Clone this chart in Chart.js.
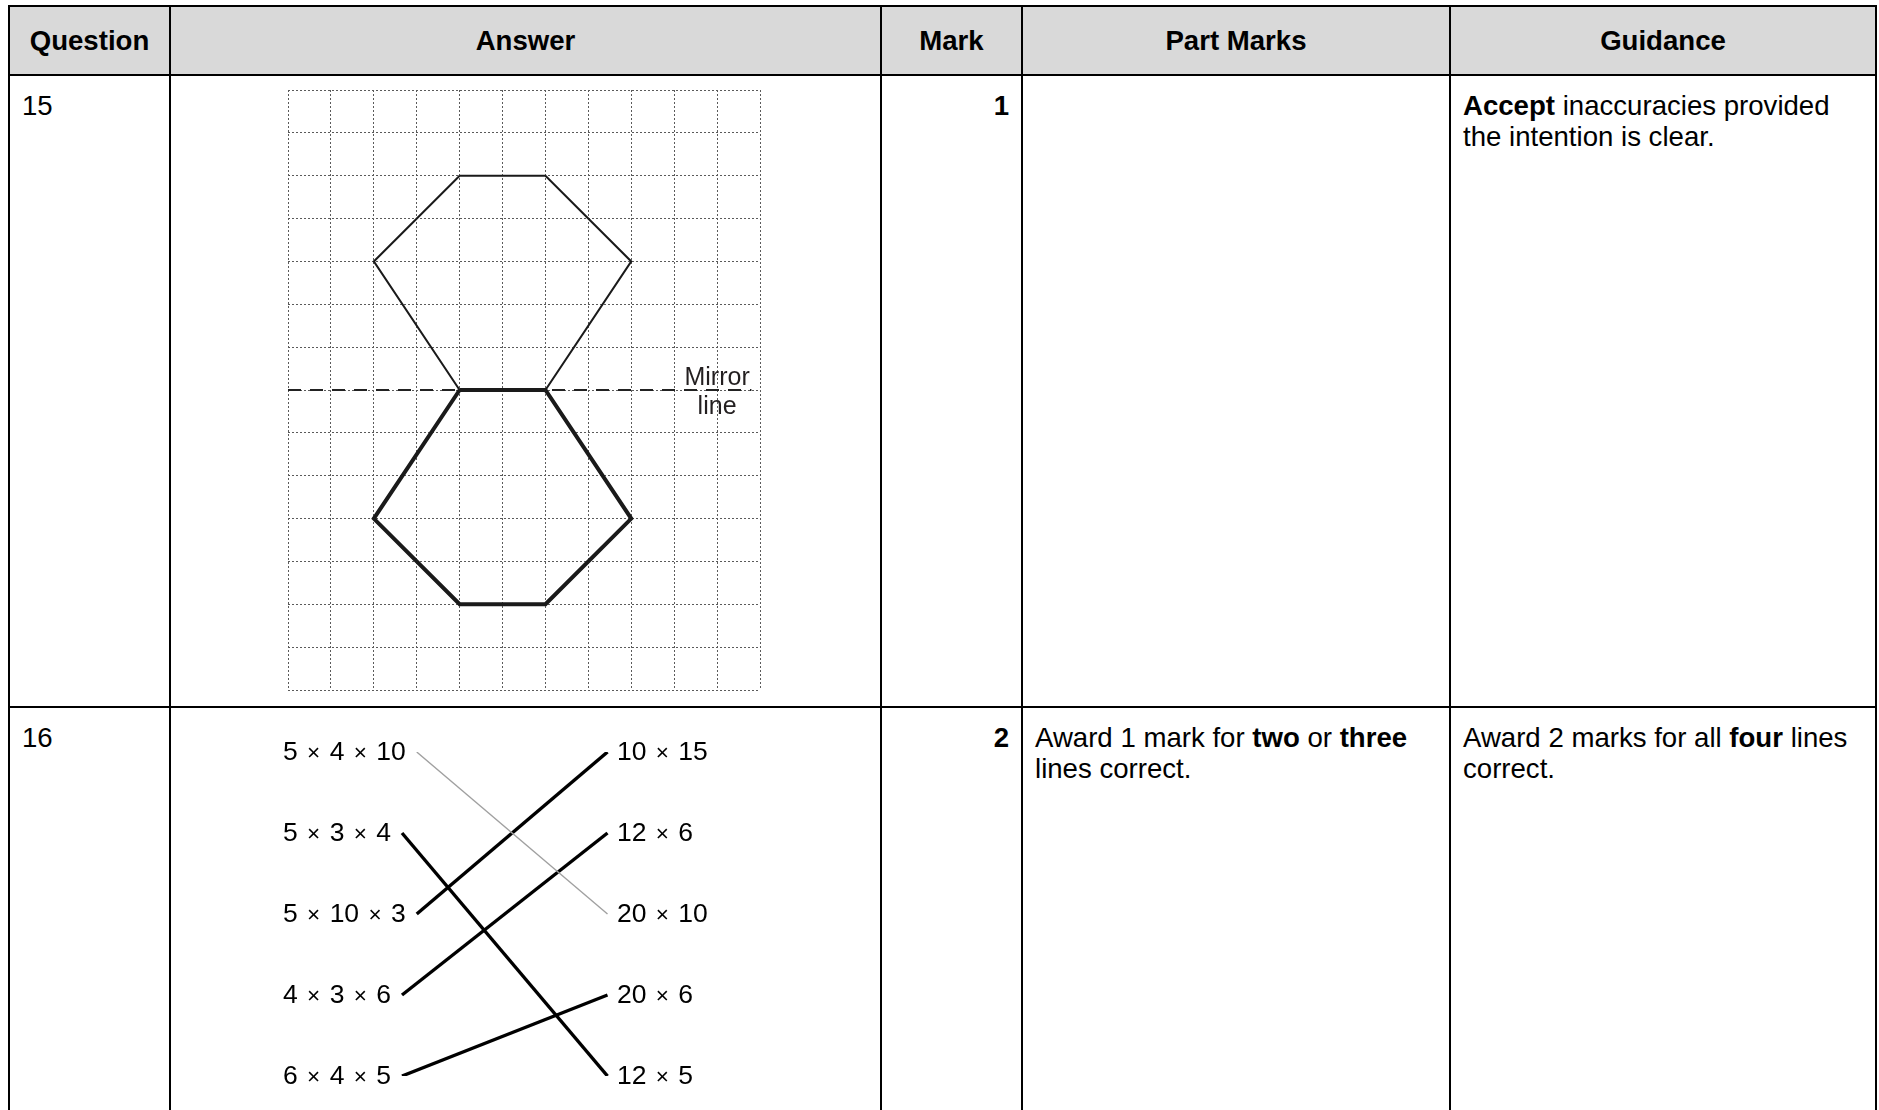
<!DOCTYPE html>
<html>
<head>
<meta charset="utf-8">
<script src="https://cdn.jsdelivr.net/npm/chart.js@4.4.1/dist/chart.umd.min.js"></script>
<style>
html,body{margin:0;padding:0;background:#fff;overflow:hidden;width:1879px;height:1110px;}
body{font-family:"Liberation Sans",Arial,Helvetica,sans-serif;color:#000;position:relative;}
.cell{position:absolute;box-sizing:border-box;border:2px solid #000;font-size:27.6px;line-height:31.6px;padding:13.5px 12px;}
.hd{background:#d9d9d9;font-weight:bold;display:flex;align-items:center;justify-content:center;padding:0;}
.r{text-align:right;font-weight:bold;}
canvas{position:absolute;}
.lab{position:absolute;font-size:26.5px;line-height:26px;white-space:nowrap;transform:translateY(-50%);z-index:2;word-spacing:2px;}
.lab .t{font-size:0.85em;}
.mirror{position:absolute;font-size:25px;line-height:28.5px;text-align:center;color:#231f20;transform:translate(-50%,-50%);z-index:2;white-space:nowrap;}
</style>
</head>
<body>
<canvas id="grid" width="492" height="620" style="left:278px;top:80px;width:492px;height:620px;z-index:1"></canvas>
<canvas id="match" width="354" height="344" style="left:273px;top:742px;width:354px;height:344px;z-index:1"></canvas>
<script>
// ---------- data ----------
const headers = ["Question", "Answer", "Mark", "Part Marks", "Guidance"];
const questions = ["15", "16"];
const marks = ["1", "2"];
const partMarks = ["", "Award 1 mark for <b>two</b> or <b>three</b><br>lines correct."];
const guidance = ["<b>Accept</b> inaccuracies provided<br>the intention is clear.",
                  "Award 2 marks for all <b>four</b> lines<br>correct."];

// Q15 grid (columns x rows of squares), hexagon vertices in grid units
const gridCols = 11;
const gridRows = 14;
const upperHexX = [4, 6, 8, 6, 4, 2, 4];
const upperHexY = [2, 2, 4, 7, 7, 4, 2];
const lowerHexX = [4, 6, 8, 6, 4, 2, 4];
const lowerHexY = [7, 7, 10, 12, 12, 10, 7];
const mirrorRow = 7;
const mirrorFrom = 0;
const mirrorTo = 10.8;
const mirrorLabelCol = 10;
const mirrorLabel = ["Mirror", "line"];

// Q16 matching
const leftItems = ["5 × 4 × 10", "5 × 3 × 4", "5 × 10 × 3", "4 × 3 × 6", "6 × 4 × 5"];
const rightItems = ["10 × 15", "12 × 6", "20 × 10", "20 × 6", "12 × 5"];
const matchLeft = [0, 1, 2, 3, 4];
const matchRight = [2, 4, 0, 1, 3];
const matchFaint = [true, false, false, false, false];

// ---------- table layout ----------
const colX = [9, 170, 881, 1022, 1450, 1876];
const rowY = [6, 75, 707, 1170];
function cell(c, r, cls, html) {
  const d = document.createElement('div');
  d.className = 'cell ' + cls;
  d.style.left = (colX[c] - 1) + 'px';
  d.style.top = (rowY[r] - 1) + 'px';
  d.style.width = (colX[c + 1] - colX[c] + 2) + 'px';
  d.style.height = (rowY[r + 1] - rowY[r] + 2) + 'px';
  d.innerHTML = html;
  document.body.appendChild(d);
}
headers.forEach((h, i) => cell(i, 0, 'hd', h));
for (let r = 0; r < questions.length; r++) {
  cell(0, r + 1, '', questions[r]);
  cell(1, r + 1, '', '');
  cell(2, r + 1, 'r', marks[r]);
  cell(3, r + 1, '', partMarks[r]);
  cell(4, r + 1, '', guidance[r]);
}

// ---------- chart 1: grid with hexagons ----------
const common = {
  responsive: false, animation: false, devicePixelRatio: 1, events: [],
  plugins: { legend: { display: false }, tooltip: { enabled: false } },
  layout: { padding: 10 }
};
const pts = (xs, ys) => xs.map((x, i) => ({ x: x, y: ys[i] }));
const gridCanvas = document.getElementById('grid');
const chart1 = new Chart(gridCanvas, {
  type: 'scatter',
  data: {
    datasets: [
      { data: pts(upperHexX, upperHexY), showLine: true, borderColor: '#1a1a1a', borderWidth: 2, pointRadius: 0, fill: false },
      { data: pts(lowerHexX, lowerHexY), showLine: true, borderColor: '#1a1a1a', borderWidth: 4, pointRadius: 0, fill: false },
      { data: [{ x: mirrorFrom, y: mirrorRow }, { x: mirrorTo, y: mirrorRow }], showLine: true, borderColor: '#222', borderWidth: 2, borderDash: [13, 9], pointRadius: 0, fill: false }
    ]
  },
  options: Object.assign({}, common, {
    scales: {
      x: { type: 'linear', min: 0, max: gridCols, ticks: { display: false, stepSize: 1 },
           grid: { color: '#5a5a5a', lineWidth: 1, drawTicks: false }, border: { display: false, dash: [2, 2] } },
      y: { type: 'linear', min: 0, max: gridRows, reverse: true, ticks: { display: false, stepSize: 1 },
           grid: { color: '#5a5a5a', lineWidth: 1, drawTicks: false }, border: { display: false, dash: [2, 2] } }
    }
  })
});
{
  const d = document.createElement('div');
  d.className = 'mirror';
  d.innerHTML = mirrorLabel.join('<br>');
  d.style.left = (278 + chart1.scales.x.getPixelForValue(mirrorLabelCol)) + 'px';
  d.style.top = (80 + chart1.scales.y.getPixelForValue(mirrorRow)) + 'px';
  document.body.appendChild(d);
}

// ---------- chart 2: matching lines ----------
const mCanvas = document.getElementById('match');
const mLeft = 273, mTop = 742;
const chart2 = new Chart(mCanvas, {
  type: 'scatter',
  data: {
    datasets: matchLeft.map((l, i) => ({
      data: [{ x: 0, y: l }, { x: 1, y: matchRight[i] }],
      showLine: true, pointRadius: 0, fill: false,
      borderColor: matchFaint[i] ? '#a0a0a0' : '#000',
      borderWidth: matchFaint[i] ? 1.4 : 3.4
    }))
  },
  options: Object.assign({}, common, {
    scales: {
      x: { type: 'linear', min: 0, max: 1, display: false },
      y: { type: 'linear', min: 0, max: leftItems.length - 1, reverse: true, display: false }
    }
  })
});
const xs = chart2.scales.x, ys = chart2.scales.y;
function makeLabel(text, xVal, row) {
  const d = document.createElement('div');
  d.className = 'lab';
  text.split('×').forEach((part, k) => {
    if (k > 0) {
      const s = document.createElement('span');
      s.className = 't';
      s.textContent = '×';
      d.appendChild(s);
    }
    d.appendChild(document.createTextNode(part));
  });
  d.style.left = (mLeft + xs.getPixelForValue(xVal)) + 'px';
  d.style.top = (mTop + ys.getPixelForValue(row)) + 'px';
  document.body.appendChild(d);
  return d;
}
const leftLabs = leftItems.map((t, i) => makeLabel(t, 0, i));
rightItems.forEach((t, i) => makeLabel(t, 1, i));
matchLeft.forEach((l, i) => {
  const rect = leftLabs[l].getBoundingClientRect();
  const startPx = rect.right - mLeft + 11;
  const endPx = xs.getPixelForValue(1) - 9.5;
  chart2.data.datasets[i].data[0].x = xs.getValueForPixel(startPx);
  chart2.data.datasets[i].data[1].x = xs.getValueForPixel(endPx);
});
chart2.update('none');
</script>
</body>
</html>
